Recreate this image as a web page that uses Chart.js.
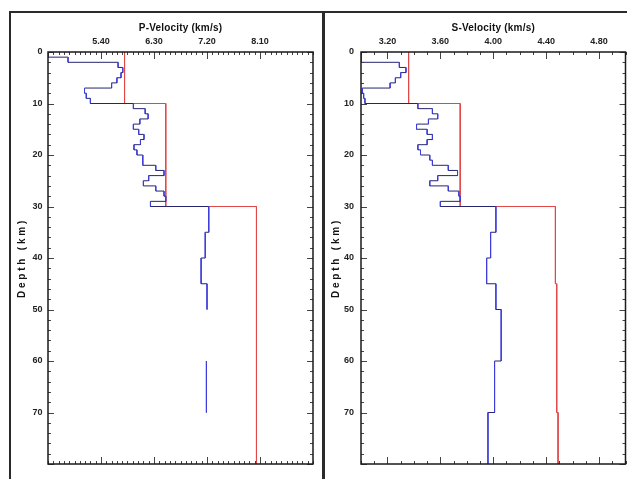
<!DOCTYPE html>
<html>
<head>
    <title>P and S Velocity Profiles</title>
    <script src="https://cdn.jsdelivr.net/npm/chart.js"></script>
    <style>
        body { margin: 0; background: #fff; }
        #wrap { position: relative; width: 627px; height: 479px; overflow: hidden; }
        canvas { position: absolute; top: 0; }
        #pChart { left: 0; }
        #sChart { left: 326px; }
        .rule { position: absolute; background: #2a2a2a; }
    </style>
</head>
<body>
<div id="wrap">
    <canvas id="pChart" width="322" height="479"></canvas>
    <canvas id="sChart" width="301" height="479"></canvas>
    <div class="rule" style="left:9px; top:11px; width:618px; height:2px"></div>
    <div class="rule" style="left:9px; top:11px; width:2px; height:468px"></div>
    <div class="rule" style="left:322px; top:11px; width:3px; height:468px"></div>
</div>

<script>
    // layer tops (km); the last layer runs down to maxDepth
    const layerTops = [0, 1, 2, 3, 4, 5, 6, 7, 8, 9,
                       10, 11, 12, 13, 14, 15, 16, 17, 18, 19,
                       20, 21, 22, 23, 24, 25, 26, 27, 28, 29,
                       30, 35, 40, 45, 50, 60, 70];
    const maxDepth = 80;

    // inverted models (km/s), null = no trace in that layer
    const pInverted = [4.50, 4.84, 5.69, 5.77, 5.74, 5.67, 5.58, 5.12, 5.15, 5.22,
                       5.95, 6.15, 6.20, 6.06, 5.95, 6.04, 6.13, 6.07, 5.96, 6.01,
                       6.11, 6.11, 6.33, 6.47, 6.21, 6.12, 6.33, 6.47, 6.50, 6.24,
                       7.23, 7.17, 7.10, 7.20, null, 7.19, null];
    const sInverted = [3.00, 3.00, 3.29, 3.34, 3.30, 3.26, 3.22, 3.01, 3.02, 3.03,
                       3.43, 3.54, 3.58, 3.51, 3.42, 3.50, 3.54, 3.50, 3.43, 3.45,
                       3.52, 3.54, 3.66, 3.73, 3.58, 3.52, 3.66, 3.74, 3.75, 3.60,
                       4.02, 3.98, 3.95, 4.02, 4.06, 4.01, 3.96];

    // starting (reference) model
    const refTops = [0, 10, 30, 45, 70];
    const pReference = [5.80, 6.50, 8.04, 8.04, 8.04];
    const sReference = [3.36, 3.75, 4.47, 4.48, 4.49];

    const pTicks = [5.40, 6.30, 7.20, 8.10];
    const sTicks = [3.20, 3.60, 4.00, 4.40, 4.80];
    const depthTicks = [0, 10, 20, 30, 40, 50, 60, 70];

    const family = "'Liberation Sans', Arial, sans-serif";

    function steps(tops, vals, bottom) {
        const pts = [];
        vals.forEach((v, i) => {
            const base = i + 1 < tops.length ? tops[i + 1] : bottom;
            if (v === null) {
                pts.push({x: null, y: null});
                return;
            }
            pts.push({x: v, y: tops[i]}, {x: v, y: base});
        });
        return pts;
    }

    // wrap a scale's title drawing with some letter spacing
    function spaceTitle(scale, spacing) {
        if (scale.$spaced) return;
        const base = scale.drawTitle;
        scale.drawTitle = function () {
            this.ctx.save();
            this.ctx.letterSpacing = spacing;
            base.call(this);
            this.ctx.restore();
        };
        scale.$spaced = true;
    }

    // plot frame plus inward ticks on all four sides
    const frameTicks = {
        id: 'frameTicks',
        afterDatasetsDraw(chart, args, opts) {
            const {ctx, chartArea: a, scales: {x, y}} = chart;
            const isMajor = (v, list) => list.some(t => Math.abs(t - v) < 1e-6);
            ctx.save();
            ctx.strokeStyle = '#444';
            ctx.lineWidth = 1;
            ctx.beginPath();
            const nx = Math.round((x.max - x.min) / opts.xMinor);
            for (let i = 0; i <= nx; i++) {
                const v = x.min + i * opts.xMinor;
                const px = Math.round(x.getPixelForValue(v)) + 0.5;
                const len = isMajor(v, opts.xMajor) ? 7 : 3;
                ctx.moveTo(px, a.top);
                ctx.lineTo(px, a.top + len);
                ctx.moveTo(px, a.bottom);
                ctx.lineTo(px, a.bottom - len);
            }
            for (let d = 0; d <= maxDepth; d += 2) {
                const py = Math.round(y.getPixelForValue(d)) + 0.5;
                const len = d % 10 === 0 ? 6 : 3;
                ctx.moveTo(a.left, py);
                ctx.lineTo(a.left + len, py);
                ctx.moveTo(a.right, py);
                ctx.lineTo(a.right - len, py);
            }
            ctx.stroke();
            ctx.strokeStyle = '#1a1a1a';
            ctx.lineWidth = 1.5;
            ctx.strokeRect(a.left, a.top, a.right - a.left, a.bottom - a.top);
            ctx.restore();
        }
    };

    function makeProfile(id, cfg) {
        return new Chart(document.getElementById(id), {
            type: 'scatter',
            data: {
                datasets: [{
                    data: steps(layerTops, cfg.inverted, maxDepth),
                    showLine: true,
                    borderWidth: 1,
                    borderColor: '#3d3dd9',
                    pointRadius: 0,
                    segment: {
                        borderColor: c => Math.abs(c.p0.y - c.p1.y) < 0.5 ? '#25256e' : '#3d3dd9'
                    }
                }, {
                    data: steps(refTops, cfg.reference, maxDepth),
                    showLine: true,
                    borderWidth: 1,
                    borderColor: '#e04848',
                    pointRadius: 0
                }]
            },
            options: {
                responsive: false,
                animation: false,
                devicePixelRatio: 1,
                layout: {padding: {left: 0, top: 0, right: cfg.padRight, bottom: 15}},
                plugins: {
                    legend: {display: false},
                    tooltip: {enabled: false},
                    frameTicks: {xMinor: cfg.xMinor, xMajor: cfg.xTicks}
                },
                scales: {
                    x: {
                        type: 'linear',
                        position: 'top',
                        min: cfg.xMin,
                        max: cfg.xMax,
                        afterBuildTicks: s => { s.ticks = cfg.xTicks.map(v => ({value: v})); },
                        afterFit: s => { s.height = 52; spaceTitle(s, '0.2px'); },
                        grid: {display: false, drawTicks: false},
                        border: {display: false},
                        ticks: {
                            padding: 4.6,
                            autoSkip: false,
                            maxRotation: 0,
                            color: '#222',
                            font: {family, size: 9, weight: 'bold'},
                            callback: v => v.toFixed(2)
                        },
                        title: {
                            display: true,
                            text: cfg.title,
                            color: '#111',
                            font: {family, size: 10, weight: 'bold'},
                            padding: {top: 22, bottom: 0}
                        }
                    },
                    y: {
                        type: 'linear',
                        reverse: true,
                        min: 0,
                        max: maxDepth,
                        afterBuildTicks: s => { s.ticks = depthTicks.map(v => ({value: v})); },
                        afterFit: s => { s.width = cfg.yAxisWidth; spaceTitle(s, '2.8px'); },
                        grid: {display: false, drawTicks: false},
                        border: {display: false},
                        ticks: {
                            padding: cfg.yLabelPad,
                            autoSkip: false,
                            color: '#222',
                            font: {family, size: 9, weight: 'bold'},
                            callback: v => String(v)
                        },
                        title: {
                            display: true,
                            text: 'Depth (km)',
                            color: '#111',
                            font: {family, size: 10, weight: 'bold'},
                            padding: {top: cfg.yTitlePad, bottom: 0}
                        }
                    }
                }
            },
            plugins: [frameTicks]
        });
    }

    makeProfile('pChart', {
        title: 'P-Velocity (km/s)',
        inverted: pInverted,
        reference: pReference,
        xMin: 4.5, xMax: 9.0, xMinor: 0.09, xTicks: pTicks,
        yAxisWidth: 48, yLabelPad: 5.5, yTitlePad: 16, padRight: 9
    });

    makeProfile('sChart', {
        title: 'S-Velocity (km/s)',
        inverted: sInverted,
        reference: sReference,
        xMin: 3.0, xMax: 5.0, xMinor: 0.1, xTicks: sTicks,
        yAxisWidth: 35, yLabelPad: 7, yTitlePad: 4, padRight: 1.5
    });
</script>
</body>
</html>
